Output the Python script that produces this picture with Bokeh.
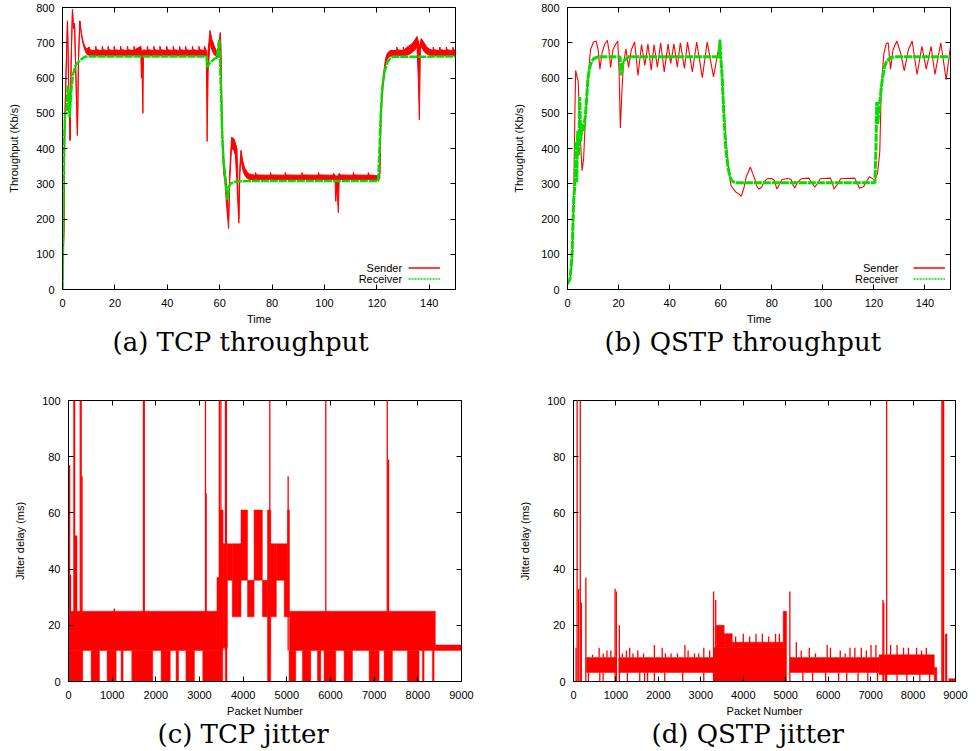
from bokeh.plotting import figure
from bokeh.models import (Range1d, FixedTicker, LinearAxis, Title, Legend, LegendItem,
                          Label, CustomJSTickFormatter)
from bokeh.layouts import column, row
from bokeh.embed import file_html
from bokeh.resources import INLINE

RED = "#ff0000"
GREEN = "#00e000"
SANS = "Liberation Sans"
SERIF = "DejaVu Serif"
NAN = float("nan")

# ---------------- (a) TCP throughput ----------------
tcp_snd_t = [0.0, 0.3, 0.6, 0.9, 1.3, 1.9, 2.3, 2.9, 3.3, 3.8, 4.2, 4.6, 5.0, 5.7, 6.1, 6.6, 7.2, 7.8, 8.5, 9.2,
             10.2, 10.6, 12.6, 12.7, 13.0, 15.1, 15.2, 15.5, 17.3, 17.4, 17.7, 19.6, 19.7, 20.0,
             22.1, 22.2, 22.5, 24.7, 24.8, 25.1, 27.2, 27.3, 27.6, 29.9, 30.1, 30.4, 30.7, 30.9,
             32.3, 32.4, 32.7, 34.8, 34.9, 35.2, 37.1, 37.2, 37.5, 39.7, 39.8, 40.1, 42.2, 42.3, 42.6,
             44.6, 44.7, 45.0, 46.9, 47.0, 47.3, 49.5, 49.6, 49.9, 52.0, 52.1, 52.4, 54.1, 54.2, 54.9,
             55.2, 55.6, 56.3, 57.0, 58.0, 59.0, 59.6, 60.2, 60.5, 61.0, 61.5, 62.0, 62.5, 63.4, 63.8,
             64.5, 65.4, 66.0, 66.6, 67.3, 67.7, 68.1, 68.8, 69.5, 70.5, 71.5,
             73.6, 73.7, 74.0, 79.3, 79.4, 79.7, 84.9, 85.0, 85.3, 91.3, 91.4, 91.7, 97.6, 97.7, 98.0,
             103.3, 103.4, 104.0, 104.3, 104.7, 105.3, 105.6, 106.0, 110.9, 111.0, 111.3, 116.6, 116.7, 117.0,
             120.8, 121.1, 121.6, 122.5, 123.3, 124.0, 125.0, 127.5, 127.6, 127.9, 130.0, 130.1, 130.4,
             132.0, 133.0, 134.0, 134.8, 135.3, 135.8, 136.2, 136.6, 136.9, 138.0, 139.0, 140.0,
             141.4, 141.5, 141.8, 143.9, 144.0, 144.3, 146.4, 146.5, 146.8, 148.9, 149.0, 149.3, 150.0]
tcp_snd_lo = [0, 100, 180, 480, 600, 762, 600, 423, 650, 794, 740, 755, 640, 437, 650, 762, 722, 698, 680, 668,
              664, 663, 663, 663, 663, 663, 663, 663, 663, 663, 663, 663, 663, 663,
              663, 663, 663, 663, 663, 663, 663, 663, 663, 663, 600, 610, 500, 663,
              663, 663, 663, 663, 663, 663, 663, 663, 663, 663, 663, 663, 663, 663, 663,
              663, 663, 663, 663, 663, 663, 663, 663, 663, 663, 663, 663, 663, 663, 663,
              420, 620, 700, 680, 665, 660, 660, 700, 600, 420, 330, 305, 250, 173, 300,
              400, 395, 380, 300, 188, 330, 370, 340, 325, 315, 312,
              312, 312, 312, 312, 312, 312, 312, 312, 312, 312, 312, 312, 312, 312, 312,
              312, 312, 312, 250, 290, 218, 312, 312, 312, 312, 312, 312, 312, 312,
              312, 315, 498, 593, 640, 655, 662, 663, 663, 663, 663, 663, 663,
              666, 670, 676, 682, 690, 600, 481, 680, 690, 675, 668, 665,
              663, 663, 663, 663, 663, 663, 663, 663, 663, 663, 663, 663, 663]
tcp_snd_hi = [0, 100, 180, 480, 600, 762, 600, 423, 650, 794, 740, 755, 640, 437, 650, 762, 728, 706, 690, 682,
              688, 679, 678, 690, 680, 678, 690, 680, 678, 690, 680, 678, 690, 680,
              678, 690, 680, 678, 690, 680, 678, 690, 680, 690, 680, 678, 676, 680,
              678, 690, 680, 678, 690, 680, 678, 690, 680, 678, 690, 680, 678, 690, 680,
              678, 690, 680, 678, 690, 680, 678, 690, 680, 678, 690, 680, 678, 690, 678,
              640, 680, 735, 710, 690, 672, 690, 729, 690, 450, 380, 320, 310, 200, 330,
              432, 428, 415, 400, 200, 350, 395, 365, 345, 333, 327,
              324, 332, 325, 324, 332, 325, 324, 332, 325, 324, 332, 325, 324, 332, 325,
              324, 330, 324, 322, 322, 322, 330, 325, 324, 332, 325, 324, 332, 325,
              322, 330, 520, 610, 655, 670, 678, 678, 688, 680, 678, 688, 680,
              690, 695, 702, 712, 718, 705, 690, 700, 712, 700, 688, 682,
              678, 688, 680, 678, 688, 680, 678, 688, 680, 678, 688, 680, 679]

tcp_rcv_t = [0, 0.3, 0.6, 1.0, 1.5, 2.0, 2.7, 3.3, 4.0, 5.0, 6.0, 7.0, 8.0, 9.0, 55.0, 55.2, 56.0, 57.0,
             58.0, 59.0, 59.8, 60.1, 60.5, 61.0, 61.5, 62.0, 62.5, 63.0, 63.5, 64.0, 66.0, 70.0, 120.5,
             121.0, 121.5, 122.0, 123.0, 124.0, 125.0, 126.0, 150.0]
tcp_rcv_y = [0, 200, 420, 500, 500, 579, 489, 560, 610, 636, 645, 652, 658, 661, 661, 631, 640, 648,
             654, 658, 709, 660, 560, 430, 360, 330, 290, 254, 290, 300, 306, 308, 308,
             400, 500, 570, 620, 645, 655, 660, 661]

# ---------------- (b) QSTP throughput ----------------
qstp_snd_t = [0, 1.0, 1.8, 2.4, 2.9, 3.2, 3.7, 4.2, 4.8, 5.7, 6.3, 7.0, 8.0, 9.0, 10.2, 11.2, 12.0, 12.7,
              13.5, 14.5, 15.6, 16.2, 16.9, 17.8, 18.8, 19.7, 20.2, 20.7, 21.3, 21.9, 22.9, 23.9, 25.0,
              26.3, 27.6, 29.0, 30.3, 31.5, 32.8, 33.9, 35.2, 36.5, 37.9, 39.4, 40.4, 41.7, 43.0, 44.2,
              45.8, 47.0, 48.9, 50.6, 52.8, 54.7, 57.2, 59.7, 60.3, 61.0, 62.0, 63.0, 64.0, 65.0, 66.0,
              67.0, 68.0, 69.0, 70.0, 71.6, 72.5, 73.5, 74.2, 75.0, 76.0, 77.0, 78.2, 80.0, 81.0, 82.0,
              83.0, 84.0, 86.0, 87.5, 88.2, 89.0, 90.0, 91.5, 94.5, 95.5, 96.9, 98.0, 99.0, 103.0, 103.8,
              104.4, 105.5, 107.0, 112.5, 113.5, 114.4, 116.0, 117.0, 118.2, 119.2, 120.3, 121.4, 122.3,
              122.9, 123.9, 124.8, 125.6, 126.5, 127.5, 129.0, 130.5, 131.9, 133.5, 135.0, 136.9, 138.8,
              140.5, 142.4, 143.9, 146.2, 148.3, 150.0]
qstp_snd_y = [20, 30, 80, 250, 500, 622, 605, 590, 460, 337, 370, 480, 593, 680, 702, 705, 680, 625,
              670, 695, 707, 680, 630, 680, 695, 705, 620, 458, 560, 640, 683, 630, 680,
              702, 607, 695, 636, 697, 622, 695, 631, 700, 617, 697, 641, 697, 631, 700,
              627, 702, 617, 702, 601, 702, 603, 705, 640, 540, 430, 350, 295, 285, 276,
              272, 264, 285, 320, 347, 330, 310, 292, 285, 290, 305, 314, 315, 310, 285,
              298, 312, 315, 313, 298, 288, 303, 314, 316, 305, 290, 302, 314, 316, 300,
              285, 296, 314, 316, 300, 287, 292, 305, 320, 316, 310, 328, 390,
              575, 669, 697, 700, 625, 680, 705, 670, 620, 680, 705, 610, 690,
              625, 690, 610, 700, 595, 690]

qstp_rcv_t = [0, 1.0, 1.8, 2.4, 3.0, 3.3, 3.6, 4.0, 4.4, 4.8, 5.2, 5.7, 6.2, 6.8, 7.3, 8.0, 8.7, 9.5,
              10.5, 12.0, 20.6, 21.0, 21.6, 22.5, 24.0, 59.4, 59.7, 60.0, 60.6, 61.2, 62.0, 63.0, 64.0,
              65.0, 66.0, 120.4, 120.8, 121.1, 121.5, 122.0, 123.0, 124.0, 125.0, 126.5, 128.0, 150.0]
qstp_rcv_y = [15, 30, 100, 250, 310, 420, 304, 450, 380, 546, 420, 470, 450, 480, 520, 598, 630, 648,
              656, 660, 660, 607, 640, 652, 660, 660, 709, 660, 600, 500, 400, 340, 312,
              305, 303, 303, 400, 532, 470, 510, 580, 628, 648, 658, 660, 660]

# ---------------- (c) TCP jitter ----------------
tcpj_x0 = [0, 0, 518, 884, 1205, 1450, 2121, 2464, 2690, 3075, 3400, 3460, 3540, 3590, 3640, 3750, 3950,
           4100, 4250, 4440, 4557, 4633, 4760, 4940, 5015, 5060, 5052, 5358, 5702, 5853, 6312, 6885,
           7227, 7762, 8106, 8334, 8400]
tcpj_x1 = [3400, 327, 709, 1091, 1250, 1930, 2330, 2520, 2884, 3533, 3460, 3540, 3640, 3630, 3750, 3950,
           4100, 4250, 4440, 4560, 4633, 4760, 5015, 5015, 5060, 8400, 5205, 5549, 5778, 6121, 6503,
           7113, 7418, 8029, 8143, 8372, 9000]
tcpj_lo = [11, 0, 0, 0, 0, 0, 0, 0, 0, 0, 11, 11, 12, 0, 36, 23, 36, 23, 36, 23, 0, 23, 36, 23, 23, 11,
           0, 0, 0, 0, 0, 0, 0, 0, 0, 0, 11]
tcpj_hi = [25, 11, 11, 11, 11, 11, 11, 11, 11, 11, 37, 61, 49, 12, 49, 49, 61, 36, 61, 36, 61, 49, 49,
           36, 61, 25, 11, 11, 11, 11, 11, 11, 11, 11, 11, 11, 13]
tcpj_sx = [25, 45, 125, 140, 160, 185, 270, 290, 310, 1050, 1717, 1735, 3137, 3152, 3455, 3490, 3595,
           3615, 4610, 5030, 5892, 7300, 7330]
tcpj_s0 = [11, 11, 11, 11, 11, 11, 11, 11, 11, 11, 11, 11, 11, 11, 11, 11, 11, 11, 11, 11, 11, 11, 11]
tcpj_s1 = [77, 38, 100, 100, 52, 52, 100, 100, 73, 26, 100, 100, 100, 67, 100, 100, 100, 100, 100, 73,
           100, 100, 79]

# ---------------- (d) QSTP jitter ----------------
qj_x0 = [300, 1070, 3300, 3360, 3550, 3740, 4940, 5100, 7200, 8500, 8840]
qj_x1 = [1017, 3300, 5020, 3550, 3740, 4940, 5020, 7200, 8500, 8560, 9000]
qj_lo = [3.2, 3.2, 0, 12, 12, 12, 12, 3.2, 2.5, 0, 0]
qj_hi = [8.5, 8.5, 12, 20, 17, 14, 25, 8.5, 9.5, 5, 1]
qj_sx = [60, 85, 122, 160, 184, 291, 980, 1010, 1080, 3300, 3350, 3620, 3700, 3820, 4000, 4150, 4300,
         4450, 4600, 4760, 4850, 5097, 7290, 7310, 7378, 8680, 8700, 8720, 8771, 8790,
         450, 604, 700, 788, 880, 1150, 1247, 1324, 1400, 1516, 1650, 1906, 2090, 2166, 2300, 2450,
         2625, 2700, 2850, 2950, 3070, 3208, 5250, 5365, 5556, 5700, 5977, 6054, 6284, 6400, 6514,
         6629, 6781, 6900, 7010, 7125, 7470, 7623, 7776, 7891, 8082, 8200, 8312,
         352, 620, 697, 1270, 1561, 1676, 1745, 1906, 2150, 2572, 3069, 5403, 5633, 5940, 6246,
         6437, 6704, 6934, 7163, 7355, 7623, 7853, 8160, 8390]
qj_s0 = [0] * 30 + [8.5] * 43 + [0] * 24
qj_s1 = [12, 100, 33, 100, 28, 37, 33, 32, 20, 32, 29, 17, 17, 16, 17, 16, 17, 17, 16, 17, 17, 32, 29,
         28, 100, 100, 100, 100, 17, 17,
         9.5, 12, 10, 11, 11, 10, 11, 12, 10, 11, 10, 13, 12, 10, 10, 10, 13, 11, 10, 10, 12, 11,
         14, 11, 12, 10, 13, 12, 11, 10, 12, 12, 12, 11, 13, 13, 13, 13, 12, 12, 12, 11, 12,
         3.2, 3.2, 3.2, 3.2, 3.2, 3.2, 3.2, 3.2, 3.2, 3.2, 3.2, 3.2, 3.2, 3.2, 3.2,
         3.2, 3.2, 3.2, 3.2, 3.2, 3.2, 3.2, 3.2, 3.2]

thr_xticks = [0, 20, 40, 60, 80, 100, 120, 140]
thr_yticks = [0, 100, 200, 300, 400, 500, 600, 700, 800]
jit_xticks = [0, 1000, 2000, 3000, 4000, 5000, 6000, 7000, 8000, 9000]
jit_yticks = [0, 20, 40, 60, 80, 100]


def make_fig(w, h, xr, yr, borders, xticks, yticks, xlabel, ylabel, caption, cap_offset):
    bl, br, bt, bb = borders
    p = figure(width=w, height=h, x_range=Range1d(*xr), y_range=Range1d(*yr),
               output_backend="svg", toolbar_location=None,
               min_border_left=bl, min_border_right=br, min_border_top=bt, min_border_bottom=bb,
               x_axis_label=xlabel, y_axis_label=ylabel)
    p.xgrid.visible = False
    p.ygrid.visible = False
    p.outline_line_color = "black"
    p.outline_line_width = 1
    p.background_fill_color = "white"
    p.border_fill_color = "white"
    p.xaxis.ticker = FixedTicker(ticks=xticks)
    p.yaxis.ticker = FixedTicker(ticks=yticks)
    for ax in [p.xaxis[0], p.yaxis[0]]:
        ax.major_tick_in = 5
        ax.major_tick_out = 0
        ax.minor_tick_in = 0
        ax.minor_tick_out = 0
        ax.axis_line_color = "black"
        ax.major_tick_line_color = "black"
        ax.major_label_text_font = SANS
        ax.major_label_text_font_size = "11px"
        ax.major_label_text_color = "black"
        ax.axis_label_text_font = SANS
        ax.axis_label_text_font_size = "11px"
        ax.axis_label_text_font_style = "normal"
        ax.axis_label_text_color = "black"
    p.xaxis.major_label_standoff = 9
    p.xaxis.axis_label_standoff = 3
    p.yaxis.major_label_standoff = 8
    p.yaxis.axis_label_standoff = 13
    for side, ticks in (("above", xticks), ("right", yticks)):
        ax = LinearAxis(ticker=FixedTicker(ticks=ticks),
                        formatter=CustomJSTickFormatter(code="return ''"),
                        major_tick_in=5, major_tick_out=0, minor_tick_in=0, minor_tick_out=0,
                        axis_line_color=None, major_label_standoff=0,
                        major_label_text_font_size="1px")
        p.add_layout(ax, side)
    t = Title(text=caption, align="left", offset=cap_offset, text_font=SERIF,
              text_font_size="26px", text_font_style="normal", text_color="black", standoff=-6)
    p.add_layout(t, "below")
    return p


def add_legend(p):
    # legend key proxies: no visible data, only their line style is shown in the legend
    r1 = p.line(x=[NAN, NAN], y=[NAN, NAN], line_color=RED, line_width=1.3)
    r2 = p.line(x=[NAN, NAN], y=[NAN, NAN], line_color=GREEN, line_width=1.3, line_dash="2 1")
    leg = Legend(items=[LegendItem(label=" ", renderers=[r1]), LegendItem(label=" ", renderers=[r2])],
                 location=(346, 5), padding=0, margin=0, spacing=0, glyph_width=32, glyph_height=11,
                 label_height=11, label_width=0, label_standoff=0, label_text_font_size="8px",
                 background_fill_alpha=0, border_line_alpha=0)
    p.add_layout(leg)
    for txt, yv in (("Sender", 61), ("Receiver", 30)):
        p.add_layout(Label(x=129.6, y=yv, text=txt, text_align="right", text_baseline="middle",
                           text_font=SANS, text_font_size="11px", text_color="black"))


# (a)
pa = make_fig(490, 370, (0, 150), (0, 800), (62, 35, 7, 81), thr_xticks, thr_yticks,
              "Time", "Throughput (Kb/s)", "(a) TCP throughput", 50)
pa.varea(x=tcp_snd_t, y1=tcp_snd_lo, y2=tcp_snd_hi, fill_color=RED)
pa.line(tcp_snd_t, tcp_snd_hi, line_color=RED, line_width=1)
pa.line(tcp_snd_t, tcp_snd_lo, line_color=RED, line_width=1)
pa.line(tcp_rcv_t, tcp_rcv_y, line_color=GREEN, line_width=2.5, line_dash="8 1")
add_legend(pa)

# (b)
pb = make_fig(490, 370, (0, 150), (0, 800), (77, 30, 7, 81), thr_xticks, thr_yticks,
              "Time", "Throughput (Kb/s)", "(b) QSTP throughput", 37)
pb.line(qstp_snd_t, qstp_snd_y, line_color=RED, line_width=1.1)
pb.line(qstp_rcv_t, qstp_rcv_y, line_color=GREEN, line_width=3, line_dash="8 1")
add_legend(pb)

# (c)
pc = make_fig(490, 381, (0, 9000), (0, 100), (68, 29, 30, 70), jit_xticks, jit_yticks,
              "Packet Number", "Jitter delay (ms)", "(c) TCP jitter", 89)
pc.quad(left=tcpj_x0, right=tcpj_x1, bottom=tcpj_lo, top=tcpj_hi, fill_color=RED, line_color=RED,
        line_width=0.5)
pc.segment(x0=tcpj_sx, y0=tcpj_s0, x1=tcpj_sx, y1=tcpj_s1, line_color=RED, line_width=1.3)

# (d)
pd = make_fig(490, 381, (0, 9000), (0, 100), (83, 25, 30, 70), jit_xticks, jit_yticks,
              "Packet Number", "Jitter delay (ms)", "(d) QSTP jitter", 78)
pd.quad(left=qj_x0, right=qj_x1, bottom=qj_lo, top=qj_hi, fill_color=RED, line_color=RED,
        line_width=0.5)
pd.segment(x0=qj_sx, y0=qj_s0, x1=qj_sx, y1=qj_s1, line_color=RED, line_width=1.3)

layout = column(row(pa, pb), row(pc, pd))

open("out.html", "w").write(file_html(layout, INLINE))
